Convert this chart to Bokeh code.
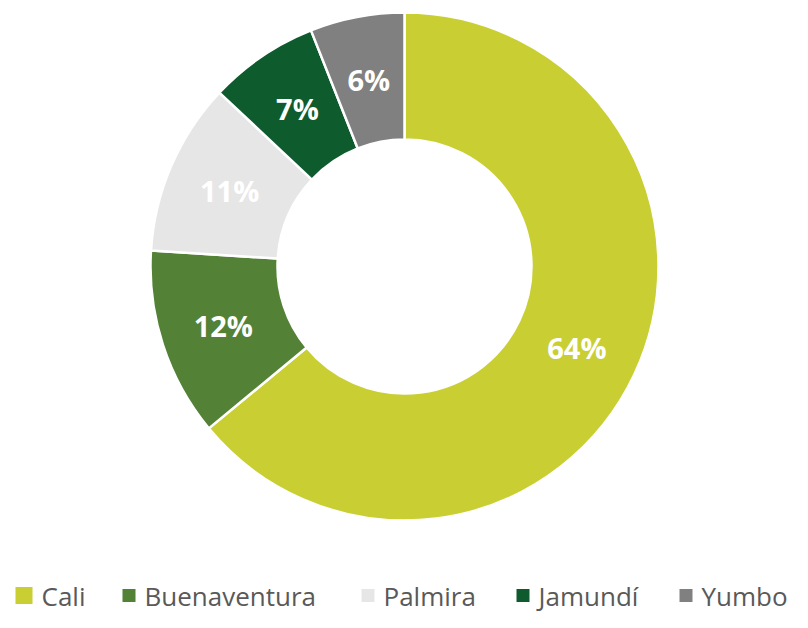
import numpy as np
from bokeh.plotting import figure
from bokeh.models import ColumnDataSource
from bokeh.core.properties import value
from bokeh.embed import file_html
from bokeh.resources import INLINE

# ---- data ----
categories = ["Cali", "Buenaventura", "Palmira", "Jamundí", "Yumbo"]
shares = [64, 12, 11, 7, 6]
labels = ["64%", "12%", "11%", "7%", "6%"]
colors = ["#C9CF33", "#538135", "#E6E6E6", "#0E5B2D", "#808080"]

# ---- layout ----
W, H = 792, 612
CX, CY = 404, H - 266      # donut centre (data = screen px, y up)
R_OUT, R_IN = 254, 127
legend_square_x = [15, 122, 361, 516, 679]
legend_square_size = [17, 13, 13, 13, 13]
legend_y = 17

p = figure(width=W, height=H, x_range=(0, W), y_range=(0, H),
           output_backend="svg", toolbar_location=None, min_border=0,
           x_axis_type=None, y_axis_type=None, outline_line_color=None)
p.grid.visible = False
p.background_fill_color = "white"
p.border_fill_color = "white"

frac = np.array(shares, dtype=float) / np.sum(shares)
cum = np.cumsum(frac)
start_cw = (cum - frac) * 2 * np.pi
end_cw = cum * 2 * np.pi
start_ang = np.pi / 2 - end_cw
end_ang = np.pi / 2 - start_cw
mid_cw = (start_cw + end_cw) / 2
r_mid = (R_OUT + R_IN) / 2

src = ColumnDataSource(dict(
    cat=categories, color=colors, start=start_ang, end=end_ang,
    lx=CX + r_mid * np.sin(mid_cw), ly=CY + r_mid * np.cos(mid_cw), lab=labels,
))

p.annular_wedge(x=CX, y=CY, inner_radius=R_IN, outer_radius=R_OUT,
                start_angle="start", end_angle="end", direction="anticlock",
                fill_color="color", line_color="white", line_width=2.5, source=src)

p.text(x="lx", y="ly", text="lab", source=src, text_color="white",
       text_font=value("Open Sans"), text_font_style="bold", text_font_size="29px",
       text_align="center", text_baseline="middle")

# legend
sq_x = np.array(legend_square_x, dtype=float)
sq_s = np.array(legend_square_size, dtype=float)
leg = ColumnDataSource(dict(
    x=sq_x + sq_s / 2, y=[legend_y] * len(categories), s=sq_s, color=colors,
    tx=sq_x + sq_s + 9, cat=categories,
))
p.rect(x="x", y="y", width="s", height="s", width_units="screen", height_units="screen",
       fill_color="color", line_color=None, source=leg)
p.text(x="tx", y=legend_y, text="cat", source=leg, text_color="#595959",
       text_font=value("Open Sans"), text_font_size="26px",
       text_align="left", text_baseline="middle")

open("out.html", "w").write(file_html(p, INLINE))
